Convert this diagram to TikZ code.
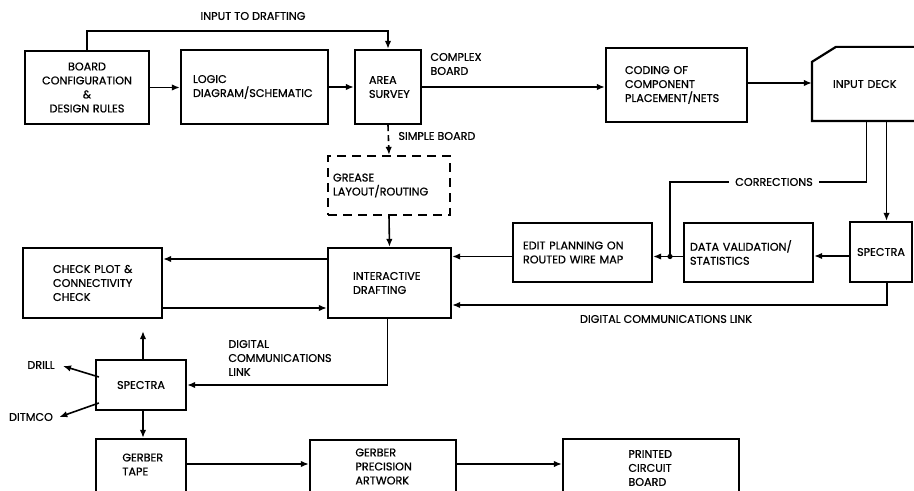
\documentclass[tikz,border=0pt]{standalone}
\usepackage{fontspec}
\setmainfont{Poppins}[FakeBold=0.8]
\usetikzlibrary{arrows.meta,calc,fit}
\begin{document}
\begin{tikzpicture}[x=0.5pt,y=-0.5pt,
  lbl/.style={font=\fontsize{5.6}{7}\selectfont, inner sep=0pt, align=left},
  box/.style={draw, line width=1.1pt, inner sep=0pt, align=left, font=\fontsize{5.6}{7}\selectfont},
  dbox/.style={box, dash pattern=on 4.5pt off 3pt},
  arr/.style={-{Latex[length=4pt,width=3.2pt]}, line width=0.8pt},
  ln/.style={line width=0.8pt}]
\useasboundingbox (0,0) rectangle (914,491);
\clip (0,0) rectangle (914,491);

% boxes
\node[box, align=center, minimum width=62pt, minimum height=36.5pt, text width=60pt] (bc) at (87,87.5) {BOARD\\CONFIGURATION\\\&\\DESIGN RULES};
\node[box, minimum width=73.5pt, minimum height=37pt, text width=61.5pt] (logic) at (254.5,87) {LOGIC\\DIAGRAM/SCHEMATIC};
\node[box, minimum width=33pt, minimum height=37pt, text width=19pt] (area) at (388,87) {AREA\\SURVEY};
\node[box, minimum width=70.5pt, minimum height=37pt, text width=51.5pt] (coding) at (676.5,85) {CODING OF\\COMPONENT\\PLACEMENT/NETS};
\node[box, draw=none, minimum width=58.5pt, minimum height=36pt, text width=38.5pt] (deck) at (871.5,84) {INPUT~DECK};
\draw[line width=1.1pt] (deck.south east) -- (deck.south west) -- ([yshift=-7.5pt]deck.north west) -- ([xshift=12pt]deck.north west) -- (deck.north east);
\node[dbox, minimum width=61pt, minimum height=29.5pt, text width=56pt] (grease) at (389,185.5) {GREASE\\LAYOUT/ROUTING};
\node[box, minimum width=61.5pt, minimum height=35pt, text width=36.5pt] (inter) at (389.5,283) {INTERACTIVE\\DRAFTING};
\node[box, minimum width=69.5pt, minimum height=29.5pt, text width=59.5pt] (edit) at (582.5,252.5) {EDIT~PLANNING~ON\\ROUTED~WIRE~MAP};
\node[box, minimum width=64.5pt, minimum height=29.5pt, text width=58.5pt] (data) at (748.5,252.5) {DATA~VALIDATION/\\STATISTICS};
\node[box, align=center, minimum width=31pt, minimum height=30pt] (specR) at (881,252) {SPECTRA};
\node[box, minimum width=69.5pt, minimum height=35pt, text width=39.5pt] (check) at (92.5,283) {CHECK~PLOT~\&\\CONNECTIVITY\\CHECK};
\node[box, align=center, minimum width=45pt, minimum height=25pt] (specL) at (141,385) {SPECTRA};
\node[box, minimum width=45pt, minimum height=29.5pt] (gtape) at (141,468.5) {};
\node[box, minimum width=73pt, minimum height=29pt] (gprec) at (383,469) {};
\node[box, minimum width=88pt, minimum height=29.5pt] (pcb) at (651,468.5) {};
\node[lbl, anchor=west] (gtapet) at (122,464.5) {GERBER\\TAPE};
\node[lbl, anchor=west] (gprect) at (355,466.5) {GERBER\\PRECISION\\ARTWORK};
\node[lbl, anchor=west] (pcbt) at (628,468) {PRINTED\\CIRCUIT\\BOARD};

% labels
\node[lbl] (inlab) at (253,16) {INPUT TO DRAFTING};
\node[lbl, anchor=west] (complex) at (430,64) {COMPLEX\\BOARD};
\node[lbl, anchor=west] (simple) at (398,136) {SIMPLE BOARD};
\node[lbl] (dcl) at (666,319) {DIGITAL COMMUNICATIONS LINK};
\node[lbl, anchor=west] (dcl3) at (228,358) {DIGITAL\\COMMUNICATIONS\\LINK};
\node[lbl] (drill) at (41,365) {DRILL};
\node[lbl] (ditmco) at (31,417) {DITMCO};

% connectors
\draw[arr] (bc.east) -- (bc.east -| logic.west);
\draw[arr] (logic.east) -- (logic.east -| area.west);
\draw[arr] (bc.north) -- ++(0,-19) -| (area.north);
\draw[arr] (area.east) -- (area.east -| coding.west);
\draw[arr] ([yshift=1pt]coding.east) -- ([yshift=1pt]coding.east -| deck.west);
\draw[arr] ([xshift=7.5pt]deck.south) -- ([xshift=7.5pt]deck.south |- specR.north);
\coordinate (cj) at ([yshift=-2pt]edit.east -| 670,0);
\draw[ln] ([xshift=-2.5pt]deck.south) |- (670,182) -- (cj);
\fill (cj) circle (1.3pt);
\node[lbl, fill=white, inner xsep=3pt, inner ysep=1pt] (corr) at (774,182) {CORRECTIONS};
\draw[arr] ([yshift=-2pt]specR.west) -- ([yshift=-2pt]specR.west -| data.east);
\draw[arr] ([yshift=-2pt]data.west) -- ([yshift=-2pt]data.west -| edit.east);
\draw[arr] ([yshift=-2pt]edit.west) -- ([yshift=-2pt]edit.west -| inter.east);
\draw[arr] ([xshift=3pt]specR.south) |- ([yshift=-11pt]inter.east);
\draw[arr, dash pattern=on 3pt off 2pt] (area.south) -- (grease.north);
\draw[arr] (grease.south) -- (inter.north);
\draw[arr] ([yshift=12pt]inter.west) -- ([yshift=12pt]inter.west -| check.east);
\draw[arr] ([yshift=-12.5pt]check.east) -- ([yshift=-12.5pt]check.east -| inter.west);
\draw[arr] ([xshift=-1pt]inter.south) |- (specL.east);
\draw[arr, shorten >=6pt] ([xshift=1pt]specL.north) -- ([xshift=1pt]specL.north |- check.south);
\draw[arr] ([yshift=4pt,xshift=2pt]specL.west) -- ([xshift=4pt,yshift=-0.5pt]drill.east);
\draw[arr] ([yshift=-9pt,xshift=2pt]specL.west) -- ([xshift=3pt]ditmco.east);
\draw[arr] ([xshift=1pt]specL.south) -- ([xshift=1pt]specL.south |- gtape.north);
\draw[arr] ([yshift=2.25pt]gtape.east) -- ([yshift=2.25pt]gtape.east -| gprec.west);
\draw[arr] ([yshift=2.5pt]gprec.east) -- ([yshift=2.5pt]gprec.east -| pcb.west);
\end{tikzpicture}
\end{document}
